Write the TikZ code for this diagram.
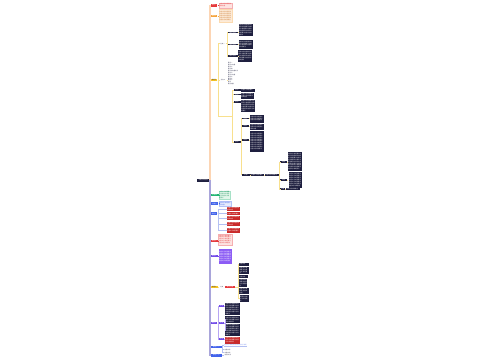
\documentclass[tikz,border=0pt]{standalone}
\usepackage{fontspec}
\newfontfamily\cjk{Noto Sans CJK SC}
\XeTeXlinebreaklocale "zh"
\XeTeXlinebreakskip=0pt plus 0.5pt
\ExplSyntaxOn
\cs_new:Npn \mmrep #1#2 {\prg_replicate:nn{#1}{#2}}
\ExplSyntaxOff
\newcommand{\mmf}[1]{\mmrep{#1}{内容文字说明要点}}
\newcommand{\mmq}{相关内容}
\definecolor{dkc}{HTML}{1E1F3F}
\definecolor{peachsp}{HTML}{FCD5B4}
\definecolor{purpsp}{HTML}{A9A5DA}
\definecolor{redn}{HTML}{E5383B}
\definecolor{pinkbg}{HTML}{FDE3E1}
\definecolor{orgn}{HTML}{F5A33A}
\definecolor{peachbg}{HTML}{FDEBD8}
\definecolor{orgtx}{HTML}{C8742A}
\definecolor{yeln}{HTML}{F6C526}
\definecolor{yell}{HTML}{F8E08E}
\definecolor{grnn}{HTML}{22B573}
\definecolor{grnbg}{HTML}{E2F6EA}
\definecolor{blun}{HTML}{4263EB}
\definecolor{blubg}{HTML}{E5EBFD}
\definecolor{blul}{HTML}{B4C0F2}
\definecolor{redbx}{HTML}{C92A2A}
\definecolor{purn}{HTML}{7048E8}
\definecolor{purbx}{HTML}{8C5CF5}
\definecolor{purl}{HTML}{B7A5F3}
\newcommand{\mmbox}[7]{%
  \pgfmathsetmacro{\mmtw}{#5-1}%
  \node[#1, anchor=north west, minimum width=#5pt, minimum height=#6pt,
        text width=\mmtw pt, inner xsep=0.5pt, inner ysep=0pt] (#2) at (#3,#4) {#7};}
\tikzset{
  mm/.style={rectangle, font=\cjk\fontsize{1.4}{1.9}\selectfont, align=left},
  lab/.style={mm, align=center},
  dk/.style={mm, fill=dkc, text=white},
  dkl/.style={lab, fill=dkc, text=white},
  rednd/.style={lab, fill=redn, text=white},
  orgnd/.style={lab, fill=orgn, text=white},
  yelnd/.style={lab, fill=yeln, text=dkc},
  grnnd/.style={lab, fill=grnn, text=white},
  blund/.style={lab, fill=blun, text=white},
  purnd/.style={lab, fill=purn, text=white},
  pinkbx/.style={mm, fill=pinkbg, draw=redn!40, line width=0.2pt, text=redn},
  peachbx/.style={mm, fill=peachbg, draw=orgn!40, line width=0.2pt, text=orgtx},
  grnbx/.style={mm, fill=grnbg, draw=grnn!40, line width=0.2pt, text=grnn!80!black},
  blubx/.style={mm, fill=blubg, draw=blun!40, line width=0.2pt, text=blun},
  redbox/.style={mm, fill=redbx, text=white},
  purbox/.style={mm, fill=purbx, text=white},
  plain/.style={lab, text=dkc},
  upsp/.style={draw=peachsp, line width=1.5pt},
  losp/.style={draw=purpsp, line width=1.5pt},
  yl/.style={draw=yell, line width=0.6pt},
  bl/.style={draw=blul, line width=0.6pt},
  pl/.style={draw=purl, line width=0.6pt},
}
\begin{document}
\begin{tikzpicture}[x=1pt,y=-1pt]
\fill[white] (0,0) rectangle (500,360);
\useasboundingbox (0,0) rectangle (500,360);

% ---------- connectors drawn first (behind nodes) ----------
\coordinate (rootE) at (209,180.1);
\coordinate (c3) at (232.7,116);

% root
\mmbox{dkl}{root}{197}{178.3}{12}{3.6}{主题名称内容}

% ---------- upper branches ----------
\mmbox{rednd}{b1}{210.6}{4}{6.6}{2.4}{标题一}
\mmbox{pinkbx}{bx1}{219}{2.6}{13}{5}{\mmf{1}\mmq}
\mmbox{orgnd}{b2}{210.6}{14.8}{6.6}{2.4}{标题二}
\mmbox{peachbx}{bx2}{219}{9.2}{13}{13}{\mmf{5}}
\mmbox{yelnd}{b3}{210.6}{78.6}{6.6}{2.4}{标题三}

\mmbox{plain}{c1}{219}{42.2}{6.5}{2.2}{分支一}
\mmbox{dkl}{d1}{227.5}{31.4}{10}{1.8}{要点内容}
\mmbox{dk}{d1b}{238.3}{23.5}{14}{12.5}{\mmf{6}}
\mmbox{dkl}{d2}{227.5}{43.4}{10}{1.8}{要点内容}
\mmbox{dk}{d2b}{238.3}{40}{14}{8.5}{\mmf{4}}
\mmbox{dkl}{d3}{227.5}{54.8}{10}{1.8}{要点内容}
\mmbox{dk}{d3b}{238}{50}{14}{11.7}{\mmf{5}}

\mmbox{plain}{c2}{219.4}{78.7}{7}{2.2}{分支二}
\node[mm, text=dkc, anchor=north west, inner sep=0pt] (lst) at (228,62.5)
  {要点一\\要点二内容\\要点三\\要点四\\要点五内容文字\\要点六\\要点七内容\\要点八\\要点九\\要点十\\要点\\要点内容};

\mmbox{dkl}{e1}{233.3}{89}{7}{1.6}{要点}
\mmbox{dk}{e1b}{240.7}{88.5}{14.5}{3}{\mmf{1}}
\mmbox{dkl}{e2}{233.3}{93.6}{7}{1.6}{要点}
\mmbox{dk}{e2b}{240.7}{92.3}{13}{6}{\mmf{2}\mmq}
\mmbox{dkl}{e3}{233.3}{100.9}{7}{1.6}{要点}
\mmbox{dk}{e3b}{240.7}{100}{14.5}{11.5}{\mmf{6}}
\mmbox{dkl}{e4}{233.3}{140.9}{7}{1.6}{要点}

\mmbox{dkl}{f1}{241.3}{117.5}{7.5}{1.6}{内容}
\mmbox{dk}{f1b}{250}{114.3}{13.3}{8}{\mmf{3}}
\mmbox{dkl}{f2}{241.3}{124.9}{7.5}{1.6}{内容}
\mmbox{dk}{f2b}{250}{123.3}{13.3}{6.7}{\mmf{2}\mmq}
\mmbox{dkl}{f3}{241.3}{139.2}{7.5}{1.6}{内容}
\mmbox{dk}{f3b}{250}{131}{13.3}{20.5}{\mmf{9}}
\mmbox{dkl}{f4}{241.3}{173.6}{9}{1.8}{内容}
\mmbox{dk}{g}{250.7}{173.3}{12.6}{2.7}{\mmf{1}}
\mmbox{dk}{h}{265}{173.3}{13.3}{2.7}{\mmf{1}}
\mmbox{dkl}{i1}{280}{160.9}{6.7}{1.6}{内容}
\mmbox{dk}{i1b}{287.5}{151.7}{14}{19.5}{\mmf{10}}
\mmbox{dkl}{i2}{280}{179.2}{6.7}{1.6}{内容}
\mmbox{dk}{i2b}{288.3}{171.8}{13.5}{16.2}{\mmf{7}}
\mmbox{dkl}{i3}{280}{188.2}{5}{1.6}{内容}
\mmbox{dk}{i3b}{286}{188.2}{14}{2}{\mmf{1}}

% ---------- lower branches ----------
\mmbox{grnnd}{l1}{210.6}{193.9}{8}{2.2}{标题四}
\mmbox{grnbx}{l1b}{218.6}{191}{11.5}{8.3}{\mmf{3}}
\mmbox{blund}{l2}{210.6}{202.2}{7.5}{2.2}{标题五}
\mmbox{blubx}{l2b}{218.6}{201}{12.5}{5}{\mmf{1}\mmq}
\mmbox{blund}{l3}{210.6}{212.2}{6.5}{2.2}{标题六}
\mmbox{redbox}{r1}{226.7}{206.7}{13.3}{4}{\mmf{1}\mmq}
\mmbox{redbox}{r2}{226.7}{211.7}{13.3}{3.3}{\mmf{1}}
\mmbox{redbox}{r3}{226.7}{216}{13.3}{4}{\mmf{1}\mmq}
\mmbox{redbox}{r4}{226.7}{221.7}{13.3}{4.3}{\mmf{1}\mmq}
\mmbox{redbox}{r5}{226.7}{227.3}{13.3}{5}{\mmf{2}}
\mmbox{rednd}{l4}{210.6}{239.4}{7}{2.2}{标题七}
\mmbox{pinkbx}{l4b}{218.4}{233.5}{13.4}{11.5}{\mmf{5}}
\mmbox{purnd}{l5}{210.6}{254.5}{7}{2.2}{标题八}
\mmbox{purbox}{l5b}{218.4}{249}{13.4}{14.3}{\mmf{6}}

\mmbox{yelnd}{l6}{210.6}{285.5}{7}{2.2}{标题九}
\mmbox{plain}{l6a}{218.8}{285.5}{5.8}{2.2}{分支}
\mmbox{rednd}{l6b}{225}{285.6}{10}{2}{要点内容}
\mmbox{dk}{k1}{239}{262.3}{9.3}{3.3}{内容文字}
\mmbox{dk}{k2}{239}{266.7}{9.3}{7.4}{\mmf{2}}
\mmbox{dk}{k3}{239}{274.8}{8.5}{3}{内容文字}
\mmbox{dk}{k4}{239}{278.3}{8}{8.4}{\mmf{2}}
\mmbox{dk}{k5}{239}{287.7}{9.3}{5.6}{\mmf{1}\mmq}
\mmbox{dk}{k6}{239.5}{294.3}{9}{7.2}{\mmf{2}}

\mmbox{purnd}{l7}{210.6}{321.7}{6.5}{2.2}{标题十}
\mmbox{purnd}{p1}{218.5}{304.9}{5.5}{2}{分支}
\mmbox{purnd}{p2}{218.5}{321.8}{5.5}{2.2}{分支}
\mmbox{purnd}{p3}{218.5}{338.2}{5.5}{2}{分支}
\mmbox{dk}{pb1}{225}{302.7}{14.3}{12.3}{\mmf{6}}
\mmbox{dk}{pb2}{225}{316}{14.3}{7}{\mmf{3}}
\mmbox{dk}{pb3}{225}{323.6}{14.3}{12.2}{\mmf{6}}
\mmbox{redbox}{pr}{225}{336.7}{14.3}{6.6}{\mmf{3}}

\mmbox{blund}{l8}{210.6}{345.9}{11}{2.2}{标题十一}
\node[mm, text=blun!70, anchor=north west, inner sep=0pt] (lbt) at (224,344) {内容文字说明要点相关内容文字说明};
\draw[blul, line width=0.2pt] (lbt.south west) -- (lbt.south east);
\mmbox{plain}{t81}{223.3}{348.4}{8}{1.8}{内容文字}
\mmbox{plain}{t82}{223.3}{351.4}{8}{1.8}{内容文字}
\mmbox{blund}{l9}{210.6}{354.1}{11}{2.2}{标题十二}
\mmbox{plain}{t9}{223.5}{354.2}{8.5}{2}{内容文字}

% ---------- connectors ----------
\foreach \n in {b1,b2,b3} \draw[upsp] (root.east) -- ++(0.8,0) |- (\n.west);
\foreach \n in {l1,l2,l3,l4,l5,l6,l7,l8,l9} \draw[losp] (root.east) -- ++(0.8,0) |- (\n.west);

\draw[redn, line width=0.4pt] (b1.east) -- (bx1.west |- b1.east);
\draw[orgn, line width=0.4pt] (b2.east) -- (bx2.west |- b2.east);
\draw[yl] (b3.east) -- ++(0.9,0) |- (c1.west);
\draw[yl] (b3.east) -- ++(0.9,0) |- (c2.west);
\draw[yl] (b3.east) -- ++(0.9,0) |- (c3);
\foreach \n in {d1,d2,d3} \draw[yl] (c1.east) -- ++(1,0) |- (\n.west);
\draw[yl] (d1.east) -- (d1b.west |- d1.east);
\draw[yl] (d2.east) -- (d2b.west |- d2.east);
\draw[yl] (d3.east) -- (d3b.west |- d3.east);
\draw[yl] (c2.east) -- (lst.west |- c2.east);
\foreach \n in {e1,e2,e3,e4} \draw[yl] (c3) |- (\n.west);
\draw[yl] (e1.east) -- (e1b.west |- e1.east);
\draw[yl] (e2.east) -- (e2b.west |- e2.east);
\draw[yl] (e3.east) -- (e3b.west |- e3.east);
\foreach \n in {f1,f2,f3,f4} \draw[yl] (e4.east) -- ++(0.5,0) |- (\n.west);
\draw[yl] (f1.east) -- (f1b.west |- f1.east);
\draw[yl] (f2.east) -- (f2b.west |- f2.east);
\draw[yl] (f3.east) -- (f3b.west |- f3.east);
\draw[yl] (f4.east) -- (g.west);
\draw[yl] (g.east) -- (h.west);
\foreach \n in {i1,i2,i3} \draw[yl] (h.east) -- ++(1,0) |- (\n.west);
\draw[yl] (i1.east) -- (i1b.west |- i1.east);
\draw[yl] (i2.east) -- (i2b.west |- i2.east);
\draw[yl] (i3.east) -- (i3b.west |- i3.east);

\draw[grnn, line width=0.4pt] (l1.east) -- (l1b.west |- l1.east);
\draw[blun, line width=0.4pt] (l2.east) -- (l2b.west |- l2.east);
\foreach \n in {r1,r2,r3,r4,r5} \draw[bl] (l3.east) -- ++(1.2,0) |- (\n.west);
\draw[redn, line width=0.4pt] (l4.east) -- (l4b.west |- l4.east);
\draw[purn, line width=0.4pt] (l5.east) -- (l5b.west |- l5.east);
\draw[yl] (l6.east) -- (l6a.west);
\draw[yl] (l6a.east) -- (l6b.west);
\foreach \n in {k1,k2,k3,k4,k5,k6} \draw[yl] (l6b.east) -- ++(3,0) |- (\n.west);
\foreach \n in {p1,p2,p3} \draw[pl] (l7.east) -- ++(0.6,0) |- (\n.west);
\draw[pl] (p1.east) -- (pb1.west |- p1.east);
\draw[pl] (p2.east) -- ++(0.5,0) |- (pb2.west);
\draw[pl] (p2.east) -- ++(0.5,0) |- (pb3.west);
\draw[pl] (p3.east) -- (pr.west |- p3.east);
\draw[bl] (l8.east) -- ++(0.6,0) |- (lbt.west);
\draw[bl] (l8.east) -- ++(0.6,0) |- (t81.west);
\draw[bl] (l8.east) -- ++(0.6,0) |- (t82.west);
\draw[bl] (l9.east) -- (t9.west);
\end{tikzpicture}
\end{document}
